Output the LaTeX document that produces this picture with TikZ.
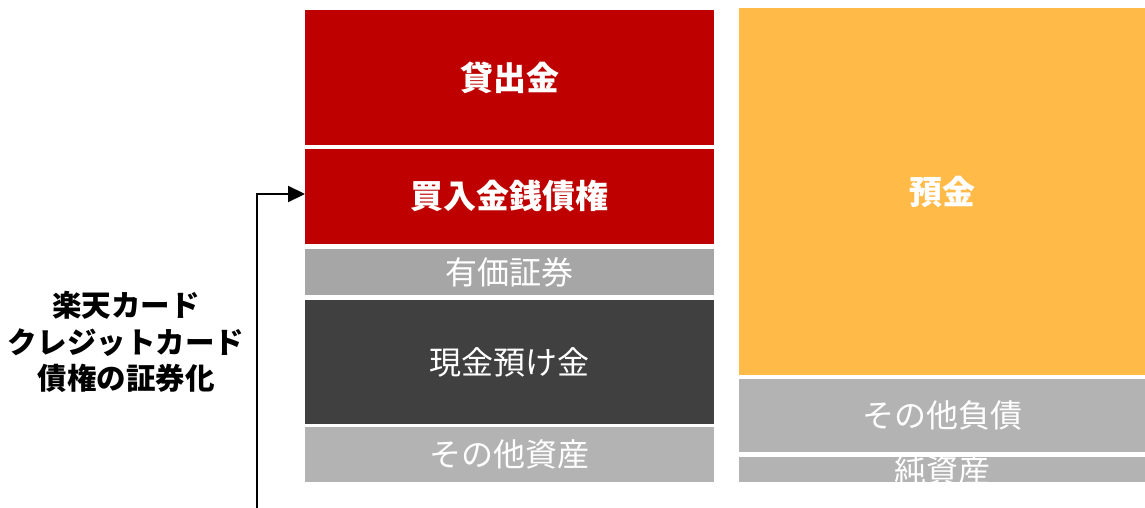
\documentclass[tikz,border=0pt]{standalone}
\usepackage{fontspec}
\setmainfont{Noto Sans CJK JP}
\usetikzlibrary{arrows.meta}
\definecolor{cred}{HTML}{BE0000}
\definecolor{cgrayA}{HTML}{A6A6A6}
\definecolor{cgrayB}{HTML}{B3B3B3}
\definecolor{cdark}{HTML}{404040}
\definecolor{corange}{HTML}{FFBA47}
\begin{document}
\begin{tikzpicture}[x=1pt,y=-1pt,
  blk/.style={inner sep=0pt, outer sep=0pt, text=white, font=\fontsize{32}{36}\selectfont},
  boldblk/.style={blk, font=\fontsize{33}{36}\selectfont\bfseries},
  lefttxt/.style={align=center, font=\fontsize{29.5}{36.5}\selectfont\bfseries, text=black},
  conn/.style={line width=2.2pt, -{Triangle[length=17pt,width=16pt]}}
]
\useasboundingbox (0,0) rectangle (1145,508);
% left column
\node[boldblk, fill=cred, minimum width=409pt, minimum height=135pt] (loan) at (509.5,77.5) {貸出金};
\node[boldblk, fill=cred, minimum width=409pt, minimum height=95pt] (buy) at (509.5,196.5) {買入金銭債権};
\node[blk, fill=cgrayA, minimum width=409pt, minimum height=46pt] (sec) at (509.5,272) {有価証券};
\node[blk, fill=cdark, minimum width=409pt, minimum height=124pt] (cash) at (509.5,362) {現金預け金};
\node[blk, fill=cgrayB, minimum width=409pt, minimum height=55pt] (oasset) at (509.5,454.5) {その他資産};
% right column
\node[boldblk, fill=corange, minimum width=406pt, minimum height=367pt] (dep) at (942,191.5) {預金};
\node[blk, fill=cgrayB, minimum width=406pt, minimum height=73pt] (oliab) at (942,415.5) {その他負債};
\node[fill=cgrayB, inner sep=0pt, outer sep=0pt, minimum width=406pt, minimum height=25pt] (net) at (942,469.5) {};
\begin{scope}
  \clip (net.north west) rectangle (net.south east);
  \node[blk] (nettxt) at (942,470) {純資産};
\end{scope}
% left label
\node[lefttxt] (label) at (126,342) {楽天カード\\クレジットカード\\債権の証券化};
% connector
\coordinate (start) at (257,508);
\draw[conn] (start) |- ([yshift=2.5pt]buy.west);
\end{tikzpicture}
\end{document}
